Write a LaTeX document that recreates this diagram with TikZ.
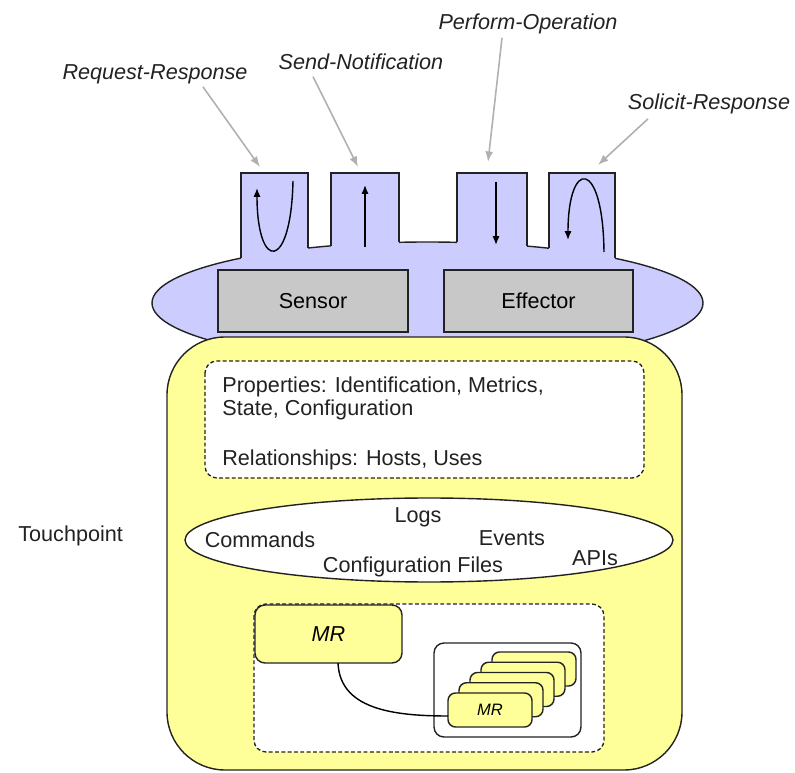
\documentclass[tikz,border=0pt]{standalone}
\usepackage{fontspec}
\setmainfont{Liberation Sans}
\usetikzlibrary{arrows.meta}
\definecolor{tpblue}{HTML}{CCCCFF}
\definecolor{tpyellow}{HTML}{FFFF99}
\definecolor{tpgray}{HTML}{C8C8C8}
\definecolor{tpline}{HTML}{222222}
\definecolor{lblarrow}{HTML}{B0B0B0}
\begin{document}
\begin{tikzpicture}[x=0.02cm,y=-0.02cm,
  font=\fontsize{12.3}{13}\selectfont,
  outline/.style={draw=tpline, line width=0.8pt},
  txt/.style={inner sep=0pt, anchor=base, text=tpline},
  ltxt/.style={inner sep=0pt, anchor=base west, text=tpline},
  lbl/.style={inner sep=0pt, anchor=base, text=tpline, font=\fontsize{12.3}{13}\selectfont\itshape},
  lblarr/.style={draw=lblarrow, line width=0.9pt, -{Latex[length=6pt,width=4.5pt]}},
  tabarr/.style={draw=black, line width=0.8pt, -{Latex[length=5pt,width=4pt]}},
  graybox/.style={outline, fill=tpgray, inner sep=0pt, minimum width=3.8cm, minimum height=1.24cm},
  mrbox/.style={outline, fill=tpyellow, rounded corners=0.2cm, inner sep=0pt},
  dashbox/.style={draw=tpline, line width=0.75pt, dash pattern=on 2.2pt off 1.4pt, fill=white, rounded corners=0.24cm}
]
\useasboundingbox (0,0) rectangle (795,773);

% blue ellipse with tabs
\path[outline, fill=tpblue] (427.5,303) ellipse [x radius=275.5, y radius=61];
\fill[tpblue] (241,173) rectangle (308,263);
\fill[tpblue] (331,173) rectangle (399,263);
\fill[tpblue] (457,173) rectangle (527,263);
\fill[tpblue] (549,173) rectangle (615,263);
\draw[outline] (241,258.1) -- (241,173) -- (308,173) -- (308,248.0);
\draw[outline] (331,245.9) -- (331,173) -- (399,173) -- (399,242.3);
\draw[outline] (457,242.4) -- (457,173) -- (527,173) -- (527,246.1);
\draw[outline] (549,248.3) -- (549,173) -- (615,173) -- (615,258.3);

% arrows inside tabs
\coordinate (rrA) at (293,181); \coordinate (rrB) at (257,188);
\coordinate (snA) at (365,247); \coordinate (snB) at (365,185);
\coordinate (poA) at (496,182); \coordinate (poB) at (496,245);
\coordinate (srA) at (604,252); \coordinate (srB) at (568,240);
\draw[tabarr] (rrA) .. controls (291,272) and (257,272) .. (rrB);
\draw[tabarr] (snA) -- (snB);
\draw[tabarr] (poA) -- (poB);
\draw[tabarr] (srA) .. controls (603,158) and (568,158) .. (srB);

% sensor / effector
\node[graybox] (sensor) at (313,301) {Sensor};
\node[graybox, minimum width=3.78cm] (effector) at (538.5,301) {Effector};

% labels on top
\node[lbl] (rr) at (155,80) {Request-Response};
\node[lbl] (sn) at (361,70) {Send-Notification};
\node[lbl] (po) at (528,30) {Perform-Operation};
\node[lbl] (sr) at (709,110) {Solicit-Response};
\coordinate (rrT) at (260,167);
\coordinate (snT) at (358,167);
\coordinate (poT) at (488,162);
\coordinate (srT) at (598,165);
\draw[lblarr] ([xshift=0.96cm,yshift=-0.04cm]rr.south) -- (rrT);
\draw[lblarr] ([xshift=-0.96cm,yshift=-0.12cm]sn.south) -- (snT);
\draw[lblarr] ([xshift=-0.52cm,yshift=-0.06cm]po.south) -- (poT);
\draw[lblarr] ([xshift=-1.22cm,yshift=-0.08cm]sr.south) -- (srT);

% touchpoint body
\path[outline, fill=tpyellow, rounded corners=1.16cm] (167,337) rectangle (682,770);

% properties box
\path[dashbox] (205,361) rectangle (644,478);
\node[ltxt] (p1) at (222,393) {Properties: Identification, Metrics,};
\node[ltxt] (p2) at (222,416) {State, Configuration};
\node[ltxt] (p3) at (222,466) {Relationships: Hosts, Uses};

% resources ellipse
\path[outline, fill=white] (429,540) ellipse [x radius=244, y radius=42];
\node[txt] (logs) at (418,523) {Logs};
\node[txt] (cmds) at (260,548) {Commands};
\node[txt] (events) at (512,546) {Events};
\node[txt] (cfg) at (413,573) {Configuration Files};
\node[txt] (apis) at (595,565) {APIs};

\node[ltxt] (tp) at (18,541) {Touchpoint};

% MR area
\path[dashbox] (254,604) rectangle (604,752);
\node[mrbox, minimum width=2.94cm, minimum height=1.16cm, font=\fontsize{12.3}{13}\selectfont\itshape] (mrbig) at (328.5,634) {MR};
\node[outline, fill=white, rounded corners=0.2cm, minimum width=2.94cm, minimum height=1.88cm, inner sep=0pt] (group) at (507.5,690) {};
\foreach \i in {4,3,2,1} {
  \node[mrbox, rounded corners=0.15cm, minimum width=1.68cm, minimum height=0.68cm] (mrs\i) at ({490+11*\i},{710-10.25*\i}) {};
}
\node[mrbox, rounded corners=0.15cm, minimum width=1.68cm, minimum height=0.68cm, font=\fontsize{9.4}{10}\selectfont\itshape] (mrs0) at (490,710) {MR};
\coordinate (cA) at (338,663);
\coordinate (cB) at (448,716);
\draw[draw=black, line width=0.8pt] (cA) .. controls (340,708) and (390,716) .. (cB);
\end{tikzpicture}
\end{document}
